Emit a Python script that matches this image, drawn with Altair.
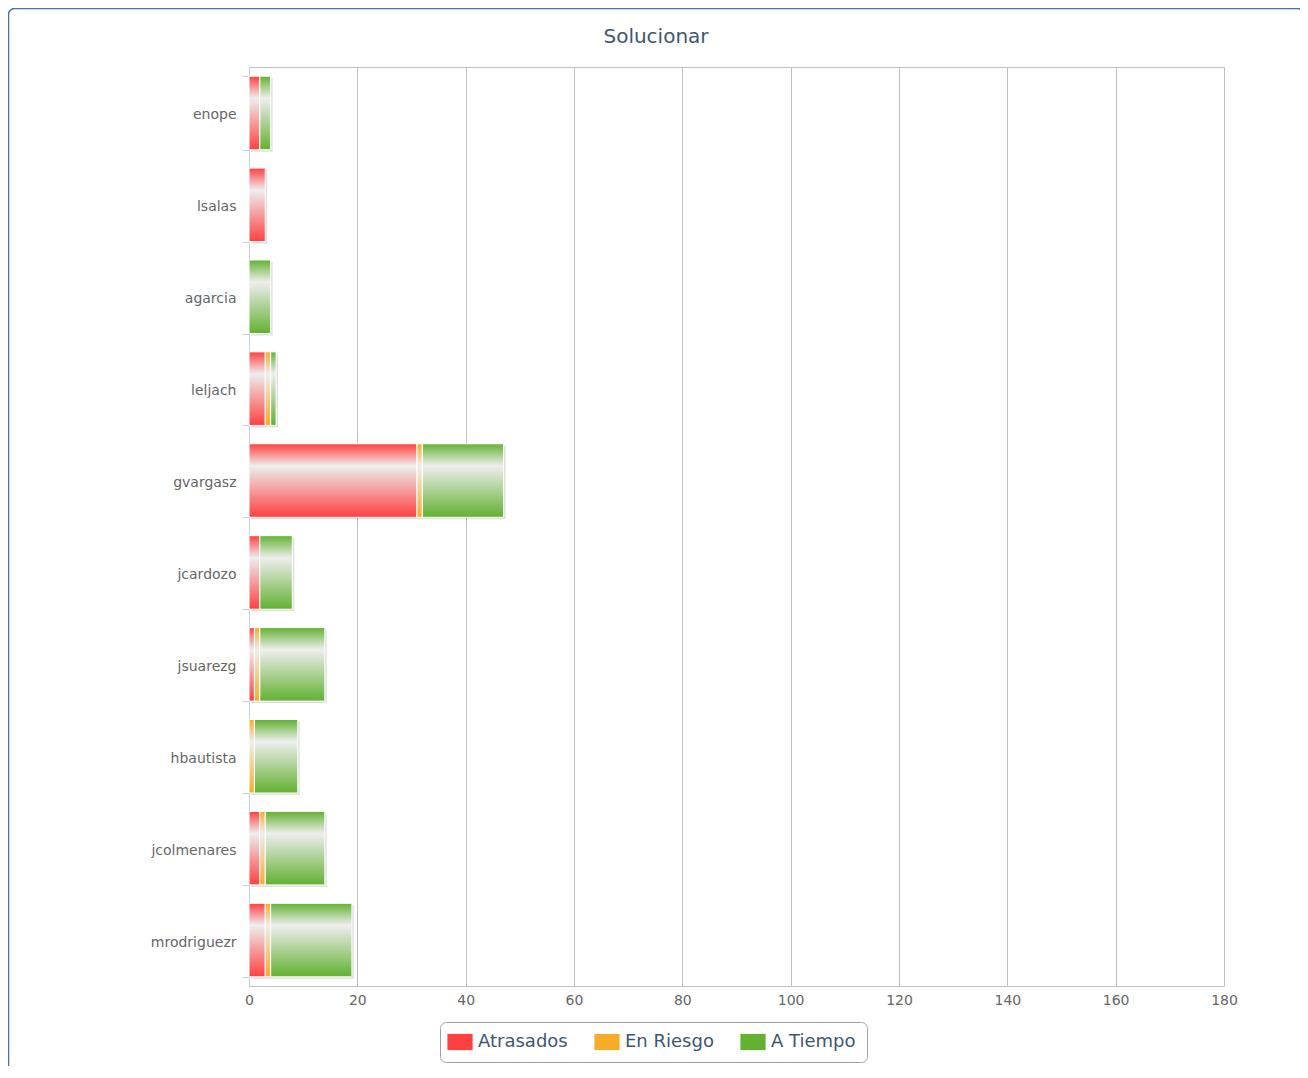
import altair as alt
import pandas as pd

names = ["enope", "lsalas", "agarcia", "leljach", "gvargasz",
         "jcardozo", "jsuarezg", "hbautista", "jcolmenares", "mrodriguezr"]
series = ["Atrasados", "En Riesgo", "A Tiempo"]
atrasados = [2, 3, 0, 3, 31, 2, 1, 0, 2, 3]
en_riesgo = [0, 0, 0, 1, 1, 0, 1, 1, 1, 1]
a_tiempo = [2, 0, 4, 1, 15, 6, 12, 8, 11, 15]
x_ticks = [0, 20, 40, 60, 80, 100, 120, 140, 160, 180]
colors = ["#FF4040", "#F5AC28", "#62B130"]

rows = []
for k, vals in enumerate([atrasados, en_riesgo, a_tiempo]):
    for n, v in zip(names, vals):
        rows.append({"name": n, "serie": series[k], "value": v, "order": k})
df = pd.DataFrame(rows)

FONT = "DejaVu Sans"


def grad(c):
    return alt.Gradient(
        gradient="linear", x1=0, y1=0, x2=0, y2=1,
        stops=[alt.GradientStop(offset=0, color=c),
               alt.GradientStop(offset=0.3, color="#EEEEEE"),
               alt.GradientStop(offset=1, color=c)])


yenc = alt.Y("name:N", sort=names,
             scale=alt.Scale(paddingInner=0.2, paddingOuter=0.1),
             axis=alt.Axis(title=None, domainColor="#C0D0E0", tickColor="#C0D0E0",
                           tickSize=7, tickBand="extent", labelPadding=6,
                           labelOffset=2,
                           labelColor="#666666", labelFontSize=14, labelFont=FONT,
                           grid=False))
xenc0 = alt.X("x0:Q", scale=alt.Scale(domain=[0, 180], nice=False),
              axis=alt.Axis(title=None, values=x_ticks, domain=False, ticks=False,
                            grid=True, gridColor="#C0C0C0", labelColor="#666666",
                            labelFontSize=14, labelFont=FONT, labelPadding=7,
                            labelFlush=False))

base = alt.Chart(df).transform_filter("datum.value > 0").transform_stack(
    stack="value", groupby=["name"], as_=["x0", "x1"],
    sort=[alt.SortField("order", order="ascending")])

shadow = base.mark_bar(fill="#000000", fillOpacity=0.12, xOffset=2, x2Offset=2,
                       yOffset=2, y2Offset=2).encode(x=xenc0, x2="x1:Q", y=yenc)

legend_layer = base.mark_bar(opacity=0).encode(
    x=xenc0, x2="x1:Q", y=yenc,
    color=alt.Color("serie:N", scale=alt.Scale(domain=series, range=colors),
                    legend=alt.Legend(
                        title=None, orient="none", direction="horizontal",
                        legendX=191, legendY=955,
                        symbolType="M-1.4,-0.9H1.4V0.9H-1.4Z", symbolSize=324,
                        symbolOpacity=1, symbolStrokeWidth=0,
                        labelFont=FONT, labelFontSize=18, labelColor="#3E576F",
                        labelOffset=9, columnPadding=26,
                        strokeColor="#A0A0A0", cornerRadius=6, padding=11,
                        fillColor="#FFFFFF")))

layers = [shadow]
for s, c in zip(series, colors):
    layers.append(
        base.transform_filter(alt.datum.serie == s)
        .mark_bar(fill=grad(c), stroke="white", strokeWidth=1)
        .encode(x=xenc0, x2="x1:Q", y=yenc))

frame = alt.Chart(pd.DataFrame({"f": [0]})).mark_rect(
    fill="transparent", stroke="#4572A7", strokeWidth=1.5, cornerRadius=6
).encode(x=alt.value(-240.5), x2=alt.value(1054.5),
         y=alt.value(-58.5), y2=alt.value(1040))

chart = alt.layer(frame, *layers, legend_layer).properties(
    width=975, height=919,
    autosize=alt.AutoSizeParams(type="none"),
    padding={"left": 241, "top": 59, "right": 76, "bottom": 80},
    title=alt.TitleParams("Solucionar", font=FONT, fontSize=20, fontWeight="normal",
                          color="#3E576F", anchor="middle", frame="group", dx=-80.5,
                          offset=-49, baseline="middle"),
).configure_view(stroke="#C0C0C0")

chart.save("out.html", embed_options={"renderer": "svg", "actions": False})
